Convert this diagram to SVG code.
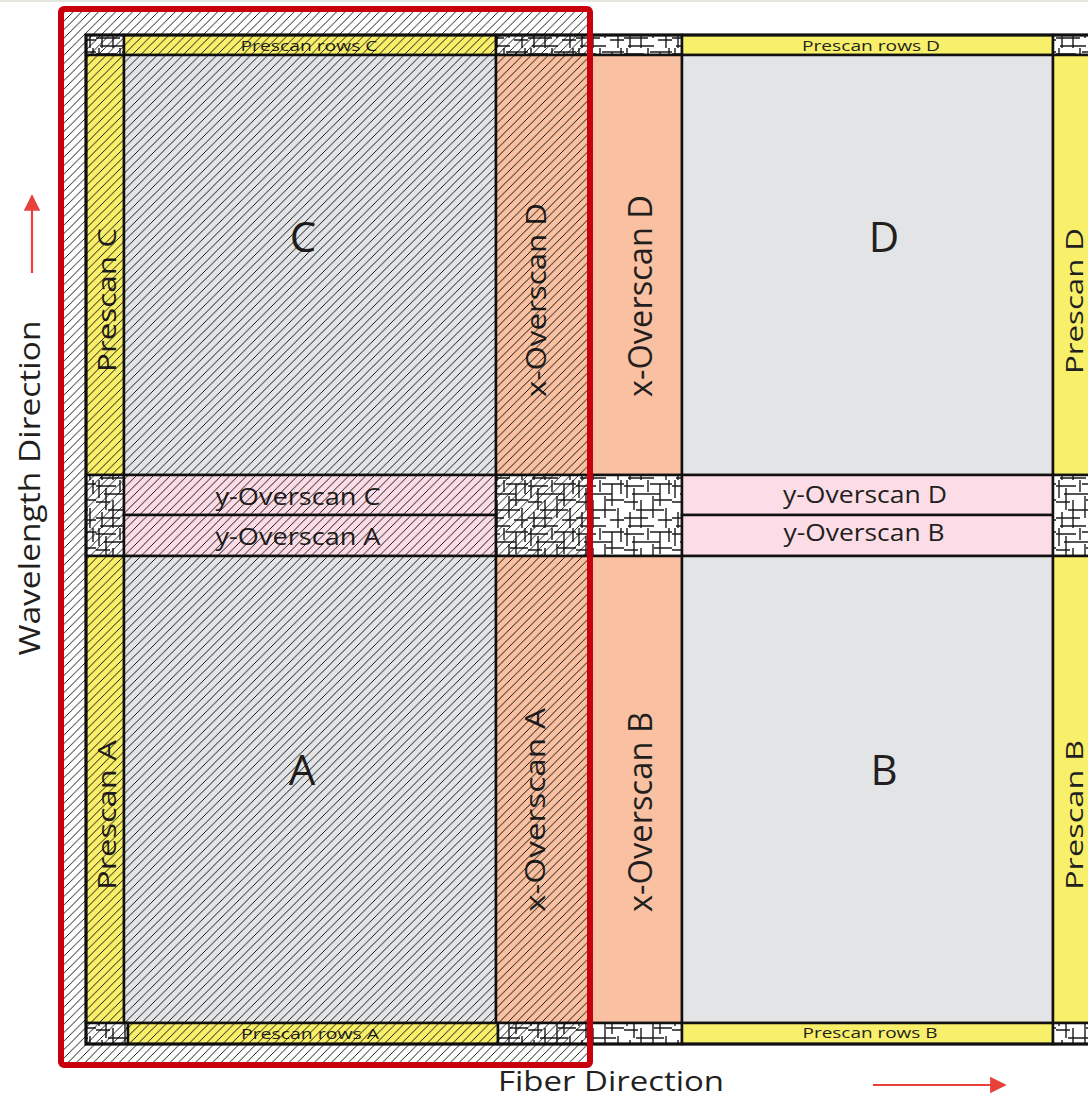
<svg xmlns="http://www.w3.org/2000/svg" width="1088" height="1095" viewBox="0 0 1088 1095">
  <style>
    .t { font-family: "Open Sans", "Liberation Sans", sans-serif; fill: #231f20; }
    .cell { stroke: #111; stroke-width: 2.5; }
    .gray { fill: #e3e4e6; }
    .yel { fill: #f8ef6a; }
    .org { fill: #f9c1a1; }
    .pink { fill: #fcdde7; }
    .noise { fill: url(#noise); }
    .arrow { stroke: #e8413a; stroke-width: 2.2; fill: none; }
  </style>
  <defs>
    <pattern id="noise" width="48" height="48" patternUnits="userSpaceOnUse">
      <rect width="48" height="48" fill="#fff"/>
      <path d="M0 6H20 M26 4H48 M8 14H36 M0 22H14 M30 20H48 M12 30H40 M0 38H24 M34 40H48 M4 46H30 M3 0V18 M10 8V30 M17 20V48 M24 0V12 M29 16V38 M36 4V26 M42 28V48 M6 32V48 M45 0V14" stroke="#1a1a1a" stroke-width="1.4" fill="none"/>
    </pattern>
    <pattern id="hatch" width="8.5" height="8.5" patternUnits="userSpaceOnUse">
      <path d="M0 8.5L8.5 0 M-2 2L2 -2 M6.5 10.5L10.5 6.5" stroke="#000" stroke-width="0.9" fill="none"/>
    </pattern>
    <marker id="ah" viewBox="0 0 10 10" refX="9" refY="5" markerWidth="7.5" markerHeight="8" orient="auto" markerUnits="strokeWidth">
      <path d="M0 0L10 5L0 10Z" fill="#e8413a"/>
    </marker>
  </defs>
  <rect width="1088" height="1095" fill="#fff"/>
  <rect width="1088" height="2" fill="#e6e6e1"/>

  <!-- top row -->
  <g id="noise-tl"><rect class="cell noise" x="86" y="35" width="38" height="20"/></g>
  <g id="prescan-rows-c"><rect class="cell yel" x="124" y="35" width="372" height="20"/>
    <text class="t" x="309" y="51" font-size="15" text-anchor="middle" textLength="137" lengthAdjust="spacingAndGlyphs">Prescan rows C</text></g>
  <g id="noise-tm"><rect class="cell noise" x="496" y="35" width="186" height="20"/></g>
  <g id="prescan-rows-d"><rect class="cell yel" x="682" y="35" width="371" height="20"/>
    <text class="t" x="871" y="51" font-size="15" text-anchor="middle" textLength="138" lengthAdjust="spacingAndGlyphs">Prescan rows D</text></g>
  <g id="noise-tr"><rect class="cell noise" x="1053" y="35" width="40" height="20"/></g>

  <!-- upper section -->
  <g id="prescan-c"><rect class="cell yel" x="86" y="55" width="38" height="420"/>
    <text class="t" transform="translate(116,300) rotate(-90)" font-size="25" text-anchor="middle" textLength="144" lengthAdjust="spacingAndGlyphs">Prescan C</text></g>
  <g id="quad-c"><rect class="cell gray" x="124" y="55" width="372" height="420"/>
    <text class="t" x="303" y="252" font-size="42" text-anchor="middle">C</text></g>
  <g id="x-overscan-top"><rect class="cell org" x="496" y="55" width="186" height="420"/>
    <text class="t" transform="translate(546,300) rotate(-90)" font-size="28" text-anchor="middle" textLength="194" lengthAdjust="spacingAndGlyphs">x-Overscan D</text>
    <text class="t" transform="translate(652,296) rotate(-90)" font-size="32" text-anchor="middle" textLength="202" lengthAdjust="spacingAndGlyphs">x-Overscan D</text></g>
  <g id="quad-d"><rect class="cell gray" x="682" y="55" width="371" height="420"/>
    <text class="t" x="884" y="252" font-size="42" text-anchor="middle">D</text></g>
  <g id="prescan-d"><rect class="cell yel" x="1053" y="55" width="40" height="420"/>
    <text class="t" transform="translate(1083,301) rotate(-90)" font-size="24" text-anchor="middle" textLength="146" lengthAdjust="spacingAndGlyphs">Prescan D</text></g>

  <!-- middle row -->
  <g id="noise-ml"><rect class="cell noise" x="86" y="475" width="38" height="81"/></g>
  <g id="y-overscan-c"><rect class="cell pink" x="124" y="475" width="372" height="40"/>
    <text class="t" x="298" y="505" font-size="24" text-anchor="middle" textLength="165" lengthAdjust="spacingAndGlyphs">y-Overscan C</text></g>
  <g id="y-overscan-a"><rect class="cell pink" x="124" y="515" width="372" height="41"/>
    <text class="t" x="298" y="545" font-size="24" text-anchor="middle" textLength="165" lengthAdjust="spacingAndGlyphs">y-Overscan A</text></g>
  <g id="noise-mm"><rect class="cell noise" x="496" y="475" width="186" height="81"/></g>
  <g id="y-overscan-d"><rect class="cell pink" x="682" y="475" width="371" height="40"/>
    <text class="t" x="865" y="503" font-size="24" text-anchor="middle" textLength="164" lengthAdjust="spacingAndGlyphs">y-Overscan D</text></g>
  <g id="y-overscan-b"><rect class="cell pink" x="682" y="515" width="371" height="41"/>
    <text class="t" x="864" y="541" font-size="24" text-anchor="middle" textLength="161" lengthAdjust="spacingAndGlyphs">y-Overscan B</text></g>
  <g id="noise-mr"><rect class="cell noise" x="1053" y="475" width="40" height="81"/></g>

  <!-- lower section -->
  <g id="prescan-a"><rect class="cell yel" x="86" y="556" width="38" height="467"/>
    <text class="t" transform="translate(116,815) rotate(-90)" font-size="25" text-anchor="middle" textLength="150" lengthAdjust="spacingAndGlyphs">Prescan A</text></g>
  <g id="quad-a"><rect class="cell gray" x="124" y="556" width="372" height="467"/>
    <text class="t" x="302" y="785" font-size="42" text-anchor="middle">A</text></g>
  <g id="x-overscan-bottom"><rect class="cell org" x="496" y="556" width="186" height="467"/>
    <text class="t" transform="translate(545,810) rotate(-90)" font-size="28" text-anchor="middle" textLength="204" lengthAdjust="spacingAndGlyphs">x-Overscan A</text>
    <text class="t" transform="translate(652,812) rotate(-90)" font-size="32" text-anchor="middle" textLength="200" lengthAdjust="spacingAndGlyphs">x-Overscan B</text></g>
  <g id="quad-b"><rect class="cell gray" x="682" y="556" width="371" height="467"/>
    <text class="t" x="884" y="785" font-size="42" text-anchor="middle">B</text></g>
  <g id="prescan-b"><rect class="cell yel" x="1053" y="556" width="40" height="467"/>
    <text class="t" transform="translate(1083,815) rotate(-90)" font-size="24" text-anchor="middle" textLength="150" lengthAdjust="spacingAndGlyphs">Prescan B</text></g>

  <!-- bottom row -->
  <g id="noise-bl"><rect class="cell noise" x="86" y="1023" width="42" height="21"/></g>
  <g id="prescan-rows-a"><rect class="cell yel" x="128" y="1023" width="370" height="21"/>
    <text class="t" x="310" y="1039" font-size="15" text-anchor="middle" textLength="138" lengthAdjust="spacingAndGlyphs">Prescan rows A</text></g>
  <g id="noise-bm"><rect class="cell noise" x="498" y="1023" width="184" height="21"/></g>
  <g id="prescan-rows-b"><rect class="cell yel" x="682" y="1023" width="371" height="21"/>
    <text class="t" x="870" y="1038" font-size="15" text-anchor="middle" textLength="135" lengthAdjust="spacingAndGlyphs">Prescan rows B</text></g>
  <g id="noise-br"><rect class="cell noise" x="1053" y="1023" width="40" height="21"/></g>

  <!-- outer chip border -->
  <rect x="86" y="35" width="1010" height="1009" fill="none" stroke="#111" stroke-width="3"/>

  <!-- hatched highlight -->
  <g id="highlight">
    <rect x="61" y="9" width="529" height="1056" fill="url(#hatch)"/>
    <rect x="61" y="9" width="529" height="1056" rx="3" fill="none" stroke="#c8000e" stroke-width="6"/>
  </g>

  <!-- axis labels -->
  <g id="label-wavelength">
    <text class="t" transform="translate(40,488) rotate(-90)" font-size="30" text-anchor="middle" textLength="335" lengthAdjust="spacingAndGlyphs">Wavelength Direction</text>
  </g>
  <g id="label-fiber">
    <text class="t" x="611" y="1091" font-size="28" text-anchor="middle" textLength="226" lengthAdjust="spacingAndGlyphs">Fiber Direction</text>
  </g>

  <g id="connectors">
    <line class="arrow" x1="32" y1="273" x2="32" y2="196" marker-end="url(#ah)"/>
    <line class="arrow" x1="873" y1="1085" x2="1005" y2="1085" marker-end="url(#ah)"/>
  </g>
</svg>
